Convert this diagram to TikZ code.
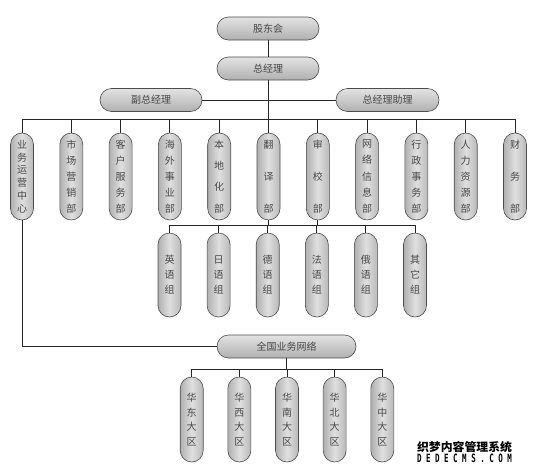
\documentclass[tikz,border=0pt]{standalone}
\usepackage{fontspec}
\newfontfamily\cjk{Noto Sans CJK SC}
\newfontfamily\wmmono{DejaVu Sans Mono}
\newcommand\vsp[1]{\parbox[c][72pt][s]{14pt}{\centering #1}}
\tikzset{
 pill/.style={rounded corners=11.5pt, draw=gray!60!black, line width=0.6pt, text=black!72, font=\cjk\fontsize{10}{12}\selectfont, inner sep=0pt},
 hpill/.style={pill, minimum height=23pt, top color=gray!22, bottom color=gray!62},
 vpill/.style={pill, minimum width=23pt, left color=gray!62, right color=gray!55, middle color=gray!25},
 dept/.style={vpill, minimum height=87pt},
 grp/.style={vpill, minimum height=84pt, align=center, font=\cjk\fontsize{10}{15}\selectfont},
 reg/.style={vpill, minimum height=85pt, align=center, font=\cjk\fontsize{10}{14.5}\selectfont},
 conn/.style={line width=0.9pt, black!85},
}
\begin{document}
\begin{tikzpicture}[x=1pt,y=-1pt]
\useasboundingbox (0,0) rectangle (537,474);
% top
\node[hpill, minimum width=102pt] (gd) at (268,28.5) {股东会};
\node[hpill, minimum width=102pt] (zjl) at (268,68.5) {总经理};
\node[hpill, minimum width=102pt] (fz) at (151,100) {副总经理};
\node[hpill, minimum width=103pt] (zl) at (387.5,100) {总经理助理};
\coordinate (bus) at (0,119);
% departments
\foreach \i/\t [count=\k from 0] in {
 d1/{业\vfill 务\vfill 运\vfill 营\vfill 中\vfill 心},
 d2/{市\vfill 场\vfill 营\vfill 销\vfill 部},
 d3/{客\vfill 户\vfill 服\vfill 务\vfill 部},
 d4/{海\vfill 外\vfill 事\vfill 业\vfill 部},
 d5/{本\vfill 地\vfill 化\vfill 部},
 d6/{翻\vfill 译\vfill 部},
 d7/{审\vfill 校\vfill 部},
 d8/{网\vfill 络\vfill 信\vfill 息\vfill 部},
 d9/{行\vfill 政\vfill 事\vfill 务\vfill 部},
 d10/{人\vfill 力\vfill 资\vfill 源\vfill 部},
 d11/{财\vfill 务\vfill 部}}
 \node[dept] (\i) at ({22+49.3*\k},176.5) {\vsp{\t}};
% groups
\coordinate (gbus) at (0,225.5);
\foreach \i/\t [count=\k from 0] in {g1/{英\\语\\组}, g2/{日\\语\\组}, g3/{德\\语\\组}, g4/{法\\语\\组}, g5/{俄\\语\\组}, g6/{其\\它\\组}}
 \node[grp] (\i) at ({169.5+49.1*\k},275) {\t};
% network
\node[hpill, minimum width=139pt] (qg) at (286.5,346.5) {全国业务网络};
\coordinate (rbus) at (0,369);
\foreach \i/\t [count=\k from 0] in {r1/{华\\东\\大\\区}, r2/{华\\西\\大\\区}, r3/{华\\南\\大\\区}, r4/{华\\北\\大\\区}, r5/{华\\中\\大\\区}}
 \node[reg] (\i) at ({191.7+47.65*\k},419.5) {\t};
% connectors
\draw[conn] (gd) -- (zjl);
\draw[conn] (fz) -- (zl);
\draw[conn] (zjl.south) -- (zjl.south |- bus);
\draw[conn] (d1.north) -- (d1.north |- bus) -- (d11.north |- bus) -- (d11.north);
\foreach \i in {d2,d3,d4,d5,d6,d7,d8,d9,d10}
 \draw[conn] (\i.north) -- (\i.north |- bus);
\draw[conn] (d6.south) -- (d6.south |- gbus);
\draw[conn] (d7.south) -- (d7.south |- gbus);
\draw[conn] (g1.north) -- (g1.north |- gbus) -- (g6.north |- gbus) -- (g6.north);
\foreach \i in {g2,g3,g4,g5}
 \draw[conn] (\i.north) -- (\i.north |- gbus);
\draw[conn] (d1.south) |- (qg.west);
\draw[conn] (qg.south) -- (qg.south |- rbus);
\draw[conn] (r1.north) -- (r1.north |- rbus) -- (r5.north |- rbus) -- (r5.north);
\foreach \i in {r2,r3,r4}
 \draw[conn] (\i.north) -- (\i.north |- rbus);
% watermark
\node[inner sep=0pt] (wm1) at (464.5,447) {\resizebox{95pt}{10pt}{\cjk\bfseries 织梦内容管理系统}};
\node[inner sep=0pt] (wm2) at (464.5,458) {\resizebox{95pt}{8.5pt}{\wmmono\bfseries D E D E C M S . C O M}};
\end{tikzpicture}
\end{document}
